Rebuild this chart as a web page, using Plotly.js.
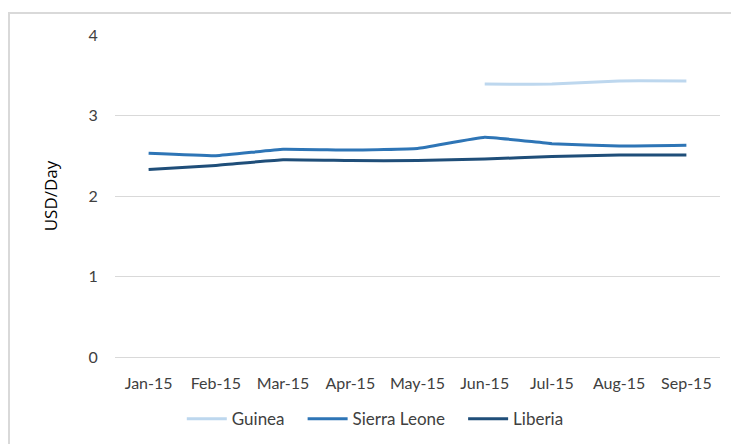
<!DOCTYPE html>
<html>
<head>
<meta charset="utf-8">
<script src="https://cdn.plot.ly/plotly-3.0.1.min.js"></script>
<style>
html,body{margin:0;padding:0;background:#fff;}
#chart{width:731px;height:444px;}
</style>
</head>
<body>
<div id="chart"></div>
<script>
const months = ["Jan-15","Feb-15","Mar-15","Apr-15","May-15","Jun-15","Jul-15","Aug-15","Sep-15"];
const guinea = [null,null,null,null,null,3.39,3.39,3.43,3.43];
const sierraLeone = [2.53,2.50,2.58,2.57,2.59,2.73,2.65,2.62,2.63];
const liberia = [2.33,2.38,2.45,2.44,2.44,2.46,2.49,2.51,2.51];
const seriesNames = ["Guinea", "Sierra Leone", "Liberia"];
const yTicks = [0,1,2,3,4];

const font = "Lato, sans-serif";
const pad = "\u00a0\u00a0\u00a0";
function tr(name, y, color){
  return {x: months, y: y, name: name + pad, type: "scatter", mode: "lines",
    line: {color: color, width: 3, shape: "spline", smoothing: 0.3}, connectgaps: false};
}
const data = [
  tr(seriesNames[0], guinea, "#bdd7ee"),
  tr(seriesNames[1], sierraLeone, "#2e75b6"),
  tr(seriesNames[2], liberia, "#1f4e79")
];
const layout = {
  width: 731, height: 444,
  margin: {l: 115, r: 11, t: 35, b: 87},
  paper_bgcolor: "#fff", plot_bgcolor: "#fff",
  font: {family: font, size: 16, color: "#404040"},
  showlegend: true,
  legend: {orientation: "h", x: 0.441, xanchor: "center", yref: "container", y: 0.056, yanchor: "middle",
    font: {family: font, size: 17, color: "#404040"}, itemwidth: 40, traceorder: "normal",
    bgcolor: "rgba(0,0,0,0)"},
  xaxis: {type: "category", range: [-0.5, 8.5], showgrid: false, zeroline: false, showline: false,
    ticks: "outside", ticklen: 12, tickcolor: "rgba(0,0,0,0)",
    tickfont: {family: font, size: 16, color: "#404040"}, fixedrange: true},
  yaxis: {range: [0, 4], tickvals: yTicks, showgrid: true, gridcolor: "#d9d9d9", gridwidth: 1,
    zeroline: true, zerolinecolor: "#d9d9d9", zerolinewidth: 1, showline: false,
    ticks: "outside", ticklen: 13, tickcolor: "rgba(0,0,0,0)",
    tickfont: {family: font, size: 16, color: "#404040"},
    title: {text: "USD/Day", font: {family: "'Open Sans', sans-serif", size: 17, color: "#000"}, standoff: 26},
    fixedrange: true},
  shapes: [{type: "rect", xref: "paper", yref: "paper",
    x0: (9 - 115) / 605, x1: 1.05, y0: -0.3, y1: (357 - 13) / 322,
    line: {color: "#d9d9d9", width: 2}, fillcolor: "rgba(0,0,0,0)", layer: "below"}]
};
Plotly.newPlot("chart", data, layout, {staticPlot: true, displayModeBar: false});
</script>
</body>
</html>
